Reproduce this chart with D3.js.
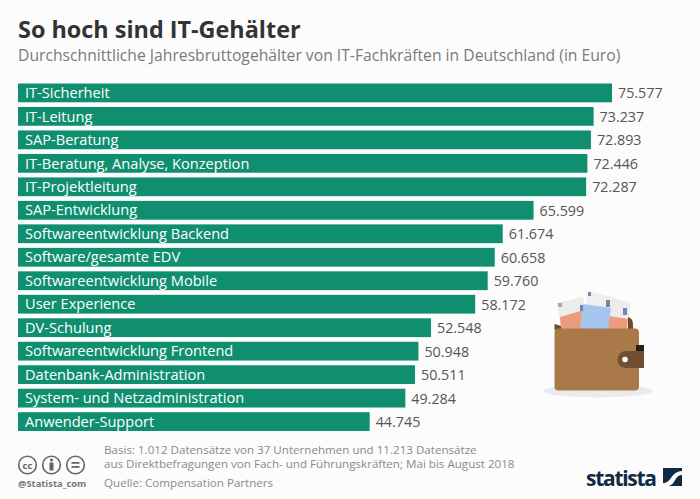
<!DOCTYPE html>
<html>
<head>
<meta charset="utf-8">
<script src="https://cdn.jsdelivr.net/npm/d3@7"></script>
<style>
  html, body { margin: 0; padding: 0; background: #fcfcfc; }
  text { font-family: "Open Sans", sans-serif; }
</style>
</head>
<body>
<div id="chart"></div>
<script>
var categories = [
  'IT-Sicherheit', 'IT-Leitung', 'SAP-Beratung', 'IT-Beratung, Analyse, Konzeption',
  'IT-Projektleitung', 'SAP-Entwicklung', 'Softwareentwicklung Backend', 'Software/gesamte EDV',
  'Softwareentwicklung Mobile', 'User Experience', 'DV-Schulung', 'Softwareentwicklung Frontend',
  'Datenbank-Administration', 'System- und Netzadministration', 'Anwender-Support'
];
var salaries = [75577, 73237, 72893, 72446, 72287, 65599, 61674, 60658, 59760, 58172, 52548, 50948, 50511, 49284, 44745];
var noteLines = [
  'Basis: 1.012 Datensätze von 37 Unternehmen und 11.213 Datensätze',
  'aus Direktbefragungen von Fach- und Führungskräften; Mai bis August 2018'
];

var width = 700, height = 499;
var svg = d3.select('#chart').append('svg')
  .attr('width', width)
  .attr('height', height)
  .style('display', 'block');

svg.append('rect').attr('width', width).attr('height', height).attr('fill', '#fcfcfc');

svg.append('text').attr('x', 18).attr('y', 38)
  .attr('font-size', 23.4).attr('font-weight', 700).attr('fill', '#333')
  .text('So hoch sind IT-Gehälter');
svg.append('text').attr('x', 18).attr('y', 61)
  .attr('font-size', 15.7).attr('fill', '#7a7a7a')
  .text('Durchschnittliche Jahresbruttogehälter von IT-Fachkräften in Deutschland (in Euro)');

var x = d3.scaleLinear().domain([0, 75577]).range([18, 612]);
var y = d3.scaleBand().domain(categories).range([83.5, 431]).paddingInner(0.2).paddingOuter(0);
var fmt = d3.format(',');

var row = svg.selectAll('g.row')
  .data(categories)
  .enter()
  .append('g')
  .attr('class', 'row');

row.append('rect')
  .attr('x', x(0))
  .attr('y', function(d) { return y(d); })
  .attr('width', function(d, i) { return x(salaries[i]) - x(0); })
  .attr('height', y.bandwidth())
  .attr('fill', '#0f8f70');

row.append('text')
  .attr('x', 25)
  .attr('y', function(d) { return y(d) + y.bandwidth() / 2 + 5.2; })
  .attr('font-size', 14.6)
  .attr('fill', '#fff')
  .text(function(d) { return d; });

row.append('text')
  .attr('x', function(d, i) { return x(salaries[i]) + 6; })
  .attr('y', function(d) { return y(d) + y.bandwidth() / 2 + 5.5; })
  .attr('font-size', 14.3)
  .attr('fill', '#555')
  .text(function(d, i) { return fmt(salaries[i]).replace(/,/g, '.'); });

// wallet illustration
var wallet = svg.append('g').attr('class', 'wallet');
wallet.append('ellipse').attr('cx', 598).attr('cy', 391).attr('rx', 55).attr('ry', 6.5).attr('fill', '#ebebee');
wallet.append('path').attr('d', 'M557 303 L583 297 L586 320 L561 328 Z').attr('fill', '#ececec');
wallet.append('path').attr('d', 'M608 296 L631 303 L627 328 L604 322 Z').attr('fill', '#ececec');
wallet.append('path').attr('d', 'M588 291 L613 297 L608 322 L584 316 Z').attr('fill', '#efefef');
wallet.append('path').attr('d', 'M560 317 L584 310 L584 329 L561 329 Z').attr('fill', '#ec9c7c');
wallet.append('path').attr('d', 'M609 316 L628 319 L627 329 L607 329 Z').attr('fill', '#ec9c7c');
wallet.append('path').attr('d', 'M583 304 L611 308 L608 329 L580 329 Z').attr('fill', '#a7c6ef');
// small marks on the bills
var billMarks = wallet.append('g').attr('fill', '#6f86b5');
billMarks.append('rect').attr('x', 580).attr('y', 305).attr('width', 3).attr('height', 6);
billMarks.append('rect').attr('x', 606).attr('y', 300).attr('width', 4).attr('height', 7);
billMarks.append('rect').attr('x', 623).attr('y', 308).attr('width', 4).attr('height', 7);
billMarks.append('rect').attr('x', 588).attr('y', 292).attr('width', 3).attr('height', 4);
wallet.append('rect').attr('x', 558).attr('y', 303).attr('width', 4).attr('height', 4).attr('fill', '#b0a79c');
wallet.append('path').attr('d', 'M628 317 Q633 318 633 325 L633 332 L628 332 Z').attr('fill', '#6b4a2c');
wallet.append('path').attr('d', 'M554.5 330 L554.5 324 L561 326 L561 330 Z').attr('fill', '#6b4a2c');
wallet.append('rect').attr('x', 554.5).attr('y', 328.5).attr('width', 84.5).attr('height', 62).attr('rx', 4).attr('fill', '#a9794a');
wallet.append('rect').attr('x', 636).attr('y', 345).attr('width', 8).attr('height', 8).attr('fill', '#2a1d12');
wallet.append('path').attr('d', 'M626 351 L644 351 L644 368 L626 368 A8.5 8.5 0 0 1 626 351 Z').attr('fill', '#6f4f30');
wallet.append('circle').attr('cx', 625).attr('cy', 359.5).attr('r', 2.8).attr('fill', '#fff');

// footer notes
var notes = svg.append('g').attr('fill', '#8a8a8a').attr('font-size', 11.6);
notes.selectAll('text.note')
  .data(noteLines)
  .enter()
  .append('text')
  .attr('class', 'note')
  .attr('x', 104)
  .attr('y', function(d, i) { return 454 + i * 13.7; })
  .text(function(d) { return d; });
notes.append('text').attr('x', 104).attr('y', 486.7).text('Quelle: Compensation Partners');

// licence icons
var icons = svg.append('g').attr('fill', 'none').attr('stroke', '#666').attr('stroke-width', 1.6);
[27.5, 51.5, 75.5].forEach(function(cx) {
  icons.append('circle').attr('cx', cx).attr('cy', 465).attr('r', 8.8);
});
svg.append('text').attr('x', 27.5).attr('y', 468.5).attr('text-anchor', 'middle')
  .attr('font-size', 9.5).attr('font-weight', 700).attr('fill', '#666').text('cc');
svg.append('circle').attr('cx', 51.5).attr('cy', 460).attr('r', 1.6).attr('fill', '#666');
svg.append('rect').attr('x', 49.5).attr('y', 462.5).attr('width', 4).attr('height', 8).attr('fill', '#666');
svg.append('rect').attr('x', 71.5).attr('y', 462).attr('width', 8).attr('height', 1.8).attr('fill', '#666');
svg.append('rect').attr('x', 71.5).attr('y', 466).attr('width', 8).attr('height', 1.8).attr('fill', '#666');
svg.append('text').attr('x', 18).attr('y', 487).attr('font-size', 9.4).attr('font-weight', 700)
  .attr('fill', '#777').text('@Statista_com');

// statista logo
svg.append('text').attr('x', 586).attr('y', 486).attr('font-size', 21).attr('font-weight', 700)
  .attr('font-family', '"Liberation Sans Narrow", "Open Sans", sans-serif')
  .attr('fill', '#0f2a43').attr('textLength', 71).text('statista');
svg.append('rect').attr('x', 663).attr('y', 468).attr('width', 19).attr('height', 18).attr('fill', '#0f2a43');
svg.append('path').attr('d', 'M663 483 C672 483 670 472 682 471 L682 475 C674 475 676 486 667 486 L663 486 Z').attr('fill', '#fcfcfc');
</script>
</body>
</html>
